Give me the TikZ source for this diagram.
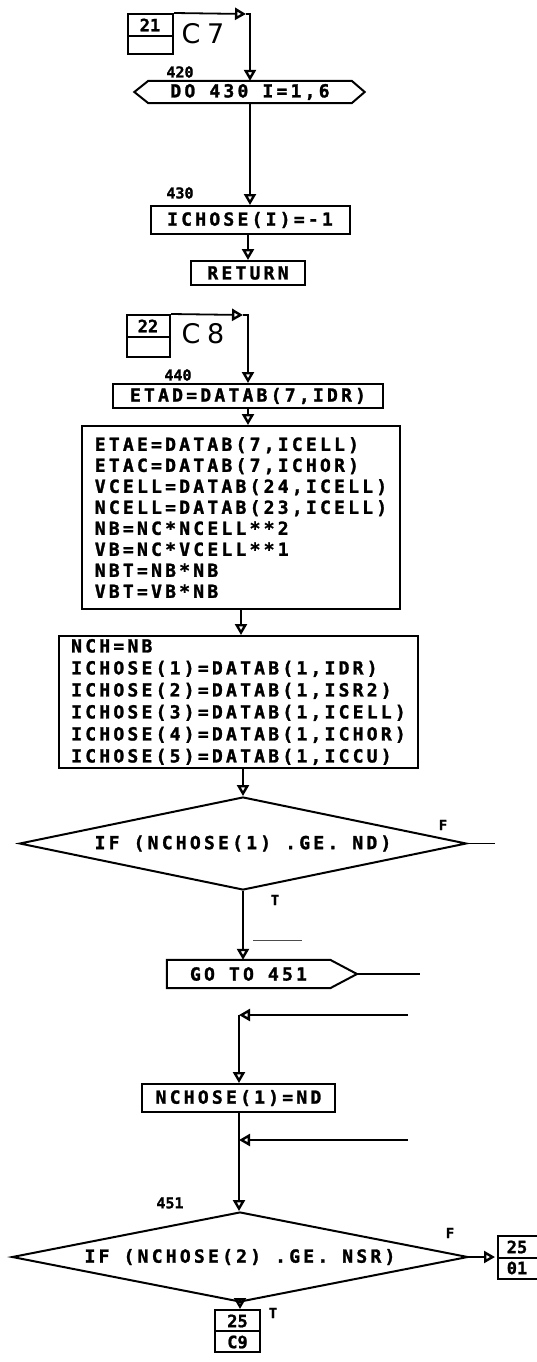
\documentclass[tikz,border=0pt]{standalone}
\usepackage{fontspec}
\usetikzlibrary{arrows.meta,shapes.geometric,calc}
\newfontfamily\fcmono[LetterSpace=18,BoldFeatures={FakeBold=1.5}]{DejaVu Sans Mono}
\newfontfamily\fcnum[BoldFeatures={FakeBold=1.2}]{DejaVu Sans Mono}
\newfontfamily\fcbig[LetterSpace=25]{DejaVu Sans}
\newcommand\fcTxt{\fcmono\bfseries\fontsize{18}{21}\selectfont}
\newcommand\fcTxtB{\fcmono\bfseries\fontsize{18}{22}\selectfont}
\newcommand\fcLab{\fcnum\bfseries\fontsize{15}{15}\selectfont}
\newcommand\fcCon{\fcnum\bfseries\fontsize{17}{17}\selectfont}
\newcommand\fcTF{\fcnum\bfseries\fontsize{14}{14}\selectfont}
\begin{document}
\begin{tikzpicture}[x=1pt,y=-1pt,
  procbox/.style={draw,line width=2pt,inner sep=0pt,font=\fcTxt},
  conbox/.style={draw,line width=2pt,inner sep=0pt},
  lab/.style={font=\fcLab,inner sep=0pt},
  connum/.style={font=\fcCon,inner sep=0pt},
  tflab/.style={font=\fcTF,inner sep=0pt},
  ctitle/.style={font=\fcbig\fontsize{27}{27}\selectfont,inner sep=0pt},
  dec/.style={diamond,draw,line width=2pt,inner sep=0pt,aspect=4.8,font=\fcTxt},
  flow/.style={line width=1.8pt},
  arr/.style={line width=1.8pt,-{Triangle[open,length=11pt,width=12pt,line width=2.4pt]}}
]
\useasboundingbox (0,0) rectangle (537,1362);
\fill[white] (0,0) rectangle (537,1362);

% ---------- C7 section ----------
\node[conbox,minimum width=45pt,minimum height=40pt] (b21) at (150.5,34) {};
\draw[line width=2pt] ($(b21.north west)+(0,23)$) -- ($(b21.north east)+(0,23)$);
\node[connum] (n21) at (150,25) {21};
\node[ctitle] (c7) at (203,34) {C7};
\coordinate (t21) at (246,14);
\coordinate (j21) at (250,14);

\node[draw=none,minimum width=203pt,minimum height=22pt,inner sep=0pt,font=\fcTxt] (dobox) at (250,92) {DO 430 I=1,6};
\draw[line width=2pt] (dobox.north west) -- (dobox.north east) -- ([xshift=13pt]dobox.east)
  -- (dobox.south east) -- (dobox.south west) -- ([xshift=-14pt]dobox.west) -- cycle;
\node[lab] (l420) at (180,72) {420};

\node[procbox,minimum width=199pt,minimum height=28pt] (icho) at (250,220) {ICHOSE(I)=-1};
\node[lab] (l430) at (180,193) {430};
\node[procbox,minimum width=114pt,minimum height=24pt] (ret) at (248,273) {RETURN};

\draw[arr] (b21.north east) -- (t21);
\draw[arr] (t21) -- (j21) -- (j21 |- dobox.north);
\draw[arr] (dobox.south) -- (dobox.south |- icho.north);
\draw[arr] (icho.south -| ret.north) -- (ret.north);

% ---------- C8 section ----------
\node[conbox,minimum width=43pt,minimum height=42pt] (b22) at (148.5,336) {};
\draw[line width=2pt] ($(b22.north west)+(0,23)$) -- ($(b22.north east)+(0,23)$);
\node[connum] (n22) at (148,326) {22};
\node[ctitle] (c8) at (203,334) {C8};
\coordinate (t22) at (243,315);
\coordinate (j22) at (248,315);

\node[procbox,minimum width=270pt,minimum height=24pt] (etad) at (248,396) {ETAD=DATAB(7,IDR)};
\node[lab] (l440) at (178,375) {440};

\node[procbox,minimum width=318pt,minimum height=183pt,align=left] (big) at (241,517.5)
 {ETAE=DATAB(7,ICELL)\\ETAC=DATAB(7,ICHOR)\\VCELL=DATAB(24,ICELL)\\NCELL=DATAB(23,ICELL)\\NB=NC*NCELL**2\\VB=NC*VCELL**1\\NBT=NB*NB\\VBT=VB*NB};

\node[procbox,minimum width=359pt,minimum height=132pt,align=left,font=\fcTxtB] (box2) at (238.5,702)
 {NCH=NB\\ICHOSE(1)=DATAB(1,IDR)\\ICHOSE(2)=DATAB(1,ISR2)\\ICHOSE(3)=DATAB(1,ICELL)\\ICHOSE(4)=DATAB(1,ICHOR)\\ICHOSE(5)=DATAB(1,ICCU)};

\node[dec,minimum width=447pt,minimum height=93pt] (d1) at (243,843.5) {IF (NCHOSE(1) .GE. ND)};
\node[tflab] (f1) at (443,825) {F};
\node[tflab] (tt1) at (275,900) {T};
\coordinate (d1out) at (495,843.5);

\node[draw=none,minimum width=163pt,minimum height=28pt,inner sep=0pt,font=\fcTxt] (goto) at (248.5,974) {GO TO 451};
\coordinate (gtip) at (357,974);
\coordinate (gout) at (420,974);
\draw[line width=2pt] (goto.north west) -- (goto.north east) -- (gtip) -- (goto.south east) -- (goto.south west) -- cycle;

\coordinate (sa) at (253,940);
\coordinate (sb) at (302,940);
\draw[line width=0.6pt,black!70] (sa) -- (sb);

\draw[arr] (b22.north east) -- (t22);
\draw[arr] (t22) -- (j22) -- (j22 |- etad.north);
\draw[arr] (etad.south) -- (etad.south |- big.north);
\draw[arr] (big.south) -- (big.south |- box2.north);
\draw[arr] (d1.north |- box2.south) -- (d1.north);
\draw[flow] (d1.east) -- (d1out);
\draw[arr] (d1.south) -- (d1.south |- goto.north);
\draw[flow] (gtip) -- (gout);

% ---------- lower part ----------
\coordinate (in1) at (408,1015);
\coordinate (j1) at (239,1015);
\coordinate (in2) at (408,1140);
\coordinate (j2) at (239,1140);
\node[procbox,minimum width=193pt,minimum height=28pt] (nch) at (238.5,1098) {NCHOSE(1)=ND};
\node[lab] (l451) at (170,1203) {451};

\node[dec,minimum width=456pt,minimum height=90pt] (d2) at (240,1257) {IF (NCHOSE(2) .GE. NSR)};
\node[tflab] (f2) at (450,1233) {F};
\node[tflab] (tt2) at (273,1313) {T};

\coordinate (t25) at (495,1257);
\node[conbox,minimum width=40pt,minimum height=43pt] (b25r) at (518,1257.5) {};
\draw[line width=2pt] (b25r.west) -- (b25r.east);
\node[connum] (n25r) at (517,1247) {25};
\node[connum] (n01) at (517,1268) {01};

\node[conbox,minimum width=45pt,minimum height=42pt] (b25b) at (237.5,1331) {};
\draw[line width=2pt] (b25b.west) -- (b25b.east);
\node[connum] (n25b) at (237.5,1321) {25};
\node[connum] (nc9) at (237.5,1342) {C9};

\draw[arr] (in1) -- (j1);
\draw[arr] (j1) -- (j1 |- nch.north);
\draw[arr] (in2) -- (j2);
\draw[flow] (nch.south -| j2) -- (j2);
\draw[arr,line width=2.8pt] (j2) -- (j2 |- d2.north);
\draw[arr] (d2.east) -- (t25);
\draw[arr] (d2.south) -- (d2.south |- b25b.north);
\end{tikzpicture}
\end{document}
